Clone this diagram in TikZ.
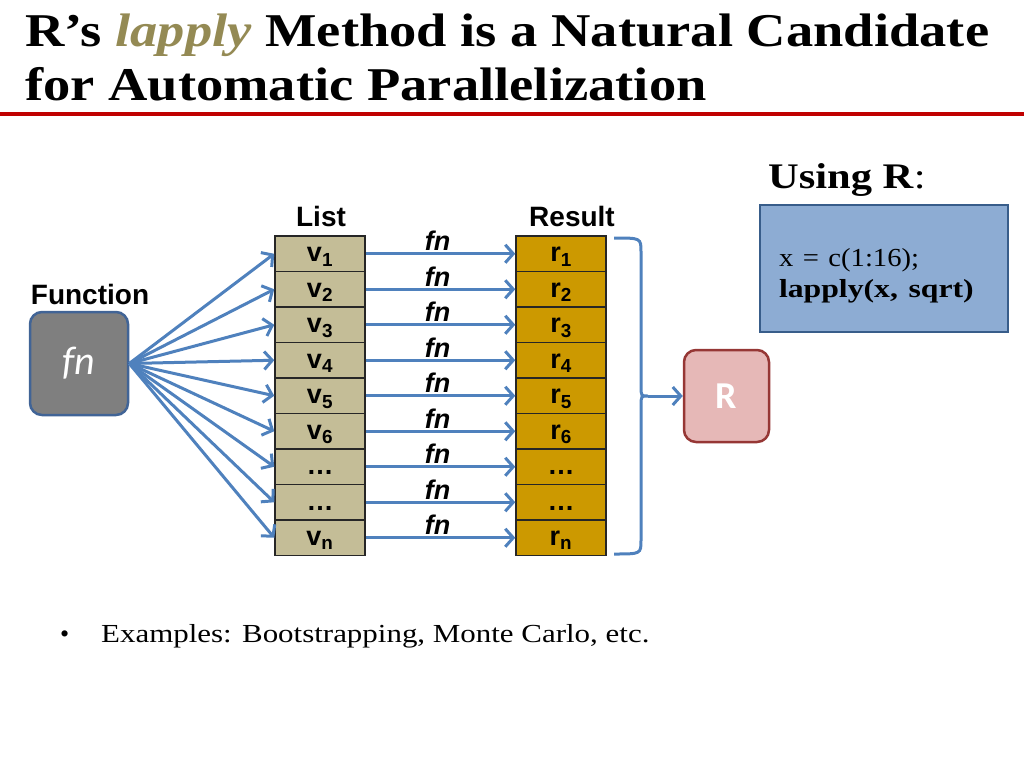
\documentclass[tikz,border=0pt]{standalone}
\usepackage{fontspec}
\setmainfont{Liberation Serif}
\setsansfont{Liberation Sans}
\newfontfamily\calibri{Carlito}
\usepackage{xcolor}
\usepackage{graphicx}
\usetikzlibrary{
    arrows.meta,
    calc,
    positioning
}
\definecolor{flowblue}{RGB}{79,129,189}
\definecolor{listtan}{RGB}{196,189,151}
\definecolor{resgold}{RGB}{204,153,0}
\definecolor{titlered}{RGB}{192,0,0}
\definecolor{lapplygold}{RGB}{148,138,84}
\definecolor{fngray}{RGB}{127,127,127}
\definecolor{fnedge}{RGB}{65,100,150}
\definecolor{rpink}{RGB}{230,184,183}
\definecolor{redge}{RGB}{150,55,53}
\definecolor{codeblue}{RGB}{141,172,211}
\definecolor{codeedge}{RGB}{56,93,138}
\newcommand{\widen}[2][1.16]{\scalebox{#1}[1]{#2}}
\tikzset{
    cellv/.style={draw=black!85, line width=1.5pt, fill=listtan, minimum width=90pt, minimum height=35.5pt, inner sep=0pt, text height=20pt, text depth=4pt, font=\sffamily\bfseries\fontsize{27}{27}\selectfont},
    cellr/.style={cellv, fill=resgold},
    flow/.style={draw=flowblue, line width=3pt, -{Straight Barb[length=8pt,width=18pt]}},
    fnlabel/.style={font=\sffamily\bfseries\itshape\fontsize{27}{27}\selectfont},
    colhead/.style={font=\sffamily\bfseries\fontsize{28}{28}\selectfont}
}

\begin{document}
\begin{tikzpicture}[x=1pt, y=-1pt]
    \useasboundingbox (0,0) rectangle (1024,768);
    % title
    \node[anchor=base west, inner sep=0pt, font=\bfseries\fontsize{47}{47}\selectfont] (title1) at (25,47) {\widen{R’s \textcolor{lapplygold}{\itshape lapply} Method is a Natural Candidate}};
    \node[anchor=base west, inner sep=0pt, font=\bfseries\fontsize{47}{47}\selectfont] (title2) at (25,100) {\widen{for Automatic Parallelization}};
    \draw[titlered, line width=4pt] (0,114) -- (1024,114);
    % function box
    \node[colhead] (funlabel) at (90,294) {Function};
    \node[draw=fnedge, line width=2.5pt, fill=fngray, rounded corners=12pt, minimum width=98pt, minimum height=103pt, text=white, font=\calibri\itshape\fontsize{40}{40}\selectfont] (fn) at (79,363.5) {fn};
    % list and result columns
    \node[colhead] (listlabel) at (321,216) {List};
    \node[colhead] (reslabel) at (572,216) {Result};
    \foreach \i/\vl/\rl in {1/v\textsubscript{1}/r\textsubscript{1}, 2/v\textsubscript{2}/r\textsubscript{2}, 3/v\textsubscript{3}/r\textsubscript{3}, 4/v\textsubscript{4}/r\textsubscript{4}, 5/v\textsubscript{5}/r\textsubscript{5}, 6/v\textsubscript{6}/r\textsubscript{6}, 7/\ldots/\ldots, 8/\ldots/\ldots, 9/v\textsubscript{n}/r\textsubscript{n}} {
        \node[cellv] (v\i) at (320,{253.75+35.5*(\i-1)}) {\vl};
        \node[cellr] (r\i) at (561,{253.75+35.5*(\i-1)}) {\rl};
        \draw[flow] (fn.east) -- (v\i.west);
        \draw[flow] (v\i.east) -- node[fnlabel, above=-2pt, xshift=-3pt] {fn} (r\i.west);
    }
    % brace and R
    \coordinate (bracetip) at (648,396);
    \draw[flowblue, line width=3pt] (614,238) .. controls (641,238) .. (641,252) -- (641,386) .. controls (641,396) .. (bracetip) .. controls (641,396) .. (641,406) -- (641,540) .. controls (641,554) .. (614,554);
    \node[draw=redge, line width=2.5pt, fill=rpink, rounded corners=12pt, minimum width=85pt, minimum height=92pt, text=white, font=\calibri\bfseries\fontsize{38}{38}\selectfont] (R) at (726.5,396) {R};
    \draw[flow] (bracetip) -- (R.west);
    % using R
    \node[anchor=base west, inner sep=0pt, font=\fontsize{36}{36}\selectfont] (using) at (768,188) {\widen[1.18]{\textbf{Using R}:}};
    \node[draw=codeedge, line width=2.5pt, fill=codeblue, minimum width=248pt, minimum height=127pt, text width=210pt, align=left, font=\fontsize{26}{31}\selectfont] (code) at (884,268.5) {\rule{0pt}{32pt}\widen[1.1]{x = c(1:16);}\\ \widen[1.22]{\textbf{lapply(x, sqrt)}}\rule[-6pt]{0pt}{6pt}};
    % bullet
    \node[anchor=base west, inner sep=0pt, font=\fontsize{26}{26}\selectfont] (examples) at (60,642) {\makebox[41pt][l]{\textbullet}\widen[1.19]{Examples: Bootstrapping, Monte Carlo, etc.}};
\end{tikzpicture}
\end{document}
